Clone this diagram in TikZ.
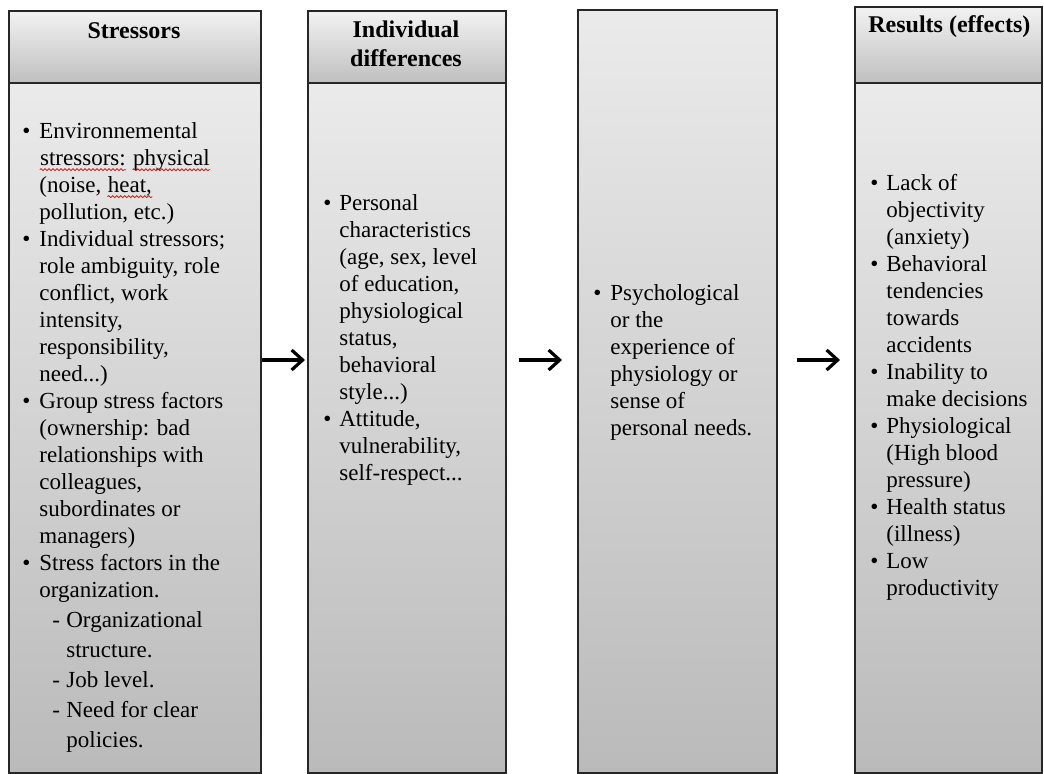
\documentclass[tikz,border=0pt]{standalone}
\usepackage{fontspec}
\setmainfont{Liberation Serif}
\usetikzlibrary{arrows.meta,shadows,decorations.pathmorphing}

% red wavy spell-check mark
\newcommand{\spellerr}[1]{\tikz[baseline=(w.base),x=1pt,y=1pt]{%
    \node[inner sep=0pt, anchor=base west] (w) at (0,0) {#1};
    \draw[red!85!black, line width=0.35pt, decorate, decoration={snake, amplitude=0.5pt, segment length=2pt}]
        ([yshift=-2.2pt]w.base west) -- ([yshift=-2.2pt]w.base east);}}

\begin{document}
\begin{tikzpicture}[x=0.5pt,y=-0.5pt]
        % Styles for headers, bodies, texts and arrows
        \tikzset{
            box/.style={draw=black!85, line width=0.8pt, rectangle, anchor=north west, inner sep=0pt,
                drop shadow={shadow xshift=0.8pt, shadow yshift=-0.8pt, opacity=0.2}},
            hdrbox/.style={box, top color=black!5, bottom color=black!25},
            bodybox/.style={box, top color=black!8, bottom color=black!27},
            hdrtxt/.style={font=\fontsize{12}{14.5}\selectfont\bfseries, inner sep=0pt},
            bodytxt/.style={font=\fontsize{11.5}{13.5}\selectfont, anchor=north west, inner sep=0pt},
            flow/.style={line width=1.6pt, -{Straight Barb[length=5.5pt,width=10pt,line width=1.6pt]}}
        }

        \useasboundingbox (0,0) rectangle (1044,774);

        % Column 1: stressors
        \node[hdrbox, minimum width=126pt, minimum height=36pt] (s1h) at (8,10) {};
        \node[bodybox, minimum width=126pt, minimum height=345pt] (s1b) at (8,82) {};
        \node[hdrtxt] (s1t) at (134,31) {Stressors};
        \node[bodytxt] (s1l) at (22,119) {%
            \begin{tabular}{@{}p{8.5pt}@{}l@{}}
            \textbullet & Environnemental\\
             & \spellerr{stressors:} \spellerr{physical}\\
             & (noise, \spellerr{heat,}\\
             & pollution, etc.)\\
            \textbullet & Individual stressors;\\
             & role ambiguity, role\\
             & conflict, work\\
             & intensity,\\
             & responsibility,\\
             & need...)\\
            \textbullet & Group stress factors\\
             & (ownership: bad\\
             & relationships with\\
             & colleagues,\\
             & subordinates or\\
             & managers)\\
            \textbullet & Stress factors in the\\
             & organization.\\[1.5pt]
             & \hspace{6.5pt}\makebox[7pt][l]{-}Organizational\\[1.5pt]
             & \hspace{13.5pt}structure.\\[1.5pt]
             & \hspace{6.5pt}\makebox[7pt][l]{-}Job level.\\[1.5pt]
             & \hspace{6.5pt}\makebox[7pt][l]{-}Need for clear\\[1.5pt]
             & \hspace{13.5pt}policies.
            \end{tabular}};

        % Column 2: individual differences
        \node[hdrbox, minimum width=99pt, minimum height=36pt] (s2h) at (307,10) {};
        \node[bodybox, minimum width=99pt, minimum height=345pt] (s2b) at (307,82) {};
        \node[hdrtxt, align=center] (s2t) at (406,44) {Individual\\differences};
        \node[bodytxt] (s2l) at (323,191) {%
            \begin{tabular}{@{}p{8pt}@{}l@{}}
            \textbullet & Personal\\
             & characteristics\\
             & (age, sex, level\\
             & of education,\\
             & physiological\\
             & status,\\
             & behavioral\\
             & style...)\\
            \textbullet & Attitude,\\
             & vulnerability,\\
             & self-respect...
            \end{tabular}};

        % Column 3: no header
        \node[bodybox, minimum width=99.5pt, minimum height=381.5pt] (s3) at (577,9) {};
        \node[bodytxt] (s3l) at (593,281) {%
            \begin{tabular}{@{}p{8.5pt}@{}l@{}}
            \textbullet & Psychological\\
             & or the\\
             & experience of\\
             & physiology or\\
             & sense of\\
             & personal needs.
            \end{tabular}};

        % Column 4: results
        \node[hdrbox, minimum width=93.5pt, minimum height=38pt] (s4h) at (854,6) {};
        \node[bodybox, minimum width=93.5pt, minimum height=345pt] (s4b) at (854,82) {};
        \node[hdrtxt, anchor=west] (s4t) at (868,27) {Results (effects)};
        \node[bodytxt] (s4l) at (870,171) {%
            \begin{tabular}{@{}p{8pt}@{}l@{}}
            \textbullet & Lack of\\
             & objectivity\\
             & (anxiety)\\
            \textbullet & Behavioral\\
             & tendencies\\
             & towards\\
             & accidents\\
            \textbullet & Inability to\\
             & make decisions\\
            \textbullet & Physiological\\
             & (High blood\\
             & pressure)\\
            \textbullet & Health status\\
             & (illness)\\
            \textbullet & Low\\
             & productivity
            \end{tabular}};

        % Arrows between the columns
        \coordinate (ay) at (0,360);
        \draw[flow] (s1b.east |- ay) -- ([xshift=-1pt]s2b.west |- ay);
        \draw[flow] ([xshift=6pt]s2b.east |- ay) -- ([xshift=-7.5pt]s3.west |- ay);
        \draw[flow] ([xshift=9.5pt]s3.east |- ay) -- ([xshift=-7pt]s4b.west |- ay);

    \end{tikzpicture}
\end{document}
